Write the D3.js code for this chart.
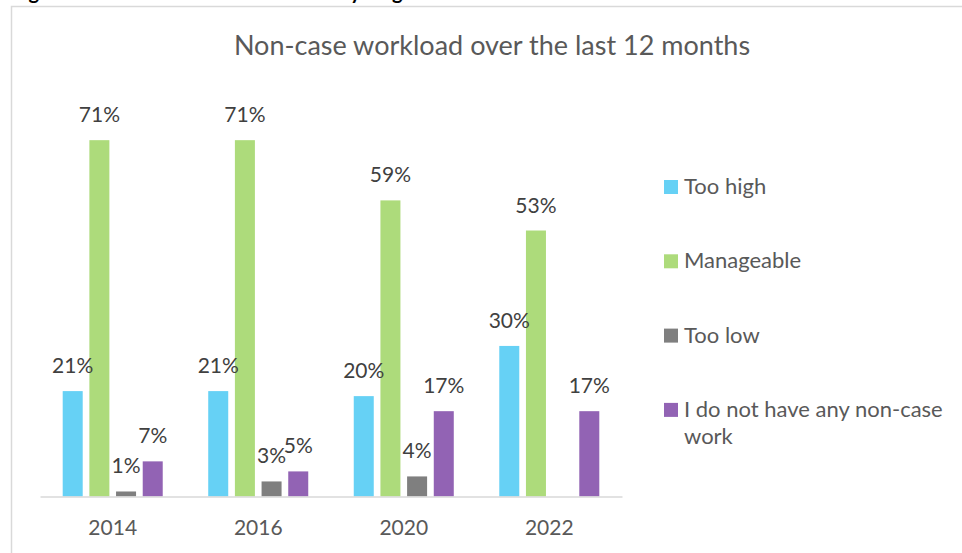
<!DOCTYPE html>
<html>
<head>
<meta charset="utf-8">
<script src="https://cdn.jsdelivr.net/npm/d3@7"></script>
<style>
  body { margin: 0; background: #fff; }
  svg { display: block; font-family: Lato, "Open Sans", sans-serif; }
</style>
</head>
<body>
<script>
const width = 962;
const height = 553;

// chart data
const years = ['2014', '2016', '2020', '2022'];
const seriesNames = ['Too high', 'Manageable', 'Too low', 'I do not have any non-case work'];
const tooHigh = [21, 21, 20, 30];
const manageable = [71, 71, 59, 53];
const tooLow = [1, 3, 4, null];
const noNonCase = [7, 5, 17, 17];
const seriesColors = ['#66D1F5', '#ADDB7B', '#7F7F7F', '#9263B4'];
const seriesValues = [tooHigh, manageable, tooLow, noNonCase];

let svg = d3.select('body').append('svg')
	.attr('width', width)
	.attr('height', height);

// heading above the chart, cut off by the crop
svg.append('text')
	.attr('x', 12)
	.attr('y', -1)
	.style('font-size', '20px')
	.style('font-weight', 'bold')
	.style('fill', '#000')
	.text('Figure 6: Non-case workload of staff by length of service');

// chart frame
svg.append('rect')
	.attr('x', 11.5)
	.attr('y', 6.5)
	.attr('width', 1000)
	.attr('height', 600)
	.style('fill', 'none')
	.style('stroke', '#D9D9D9')
	.style('stroke-width', 1.5);

svg.append('text')
	.attr('x', 492)
	.attr('y', 55)
	.attr('text-anchor', 'middle')
	.style('font-size', '27px')
	.style('fill', '#595959')
	.text('Non-case workload over the last 12 months');

let x0 = d3.scaleBand()
	.domain(years)
	.range([40, 622])
	.paddingInner(0.3127)
	.paddingOuter(0.156);

let x1 = d3.scaleBand()
	.domain(seriesNames)
	.range([0, x0.bandwidth()])
	.paddingInner(0.25);

let y = d3.scaleLinear()
	.domain([0, 80])
	.range([496.5, 95]);

let rows = [];
years.forEach(function (yr, i) {
	seriesNames.forEach(function (s, j) {
		rows.push({ year: yr, series: s, value: seriesValues[j][i], color: seriesColors[j] });
	});
});
rows = rows.filter(d => d.value !== null);

svg.selectAll('.bar')
	.data(rows)
	.enter().append('rect')
	.attr('class', 'bar')
	.attr('x', d => x0(d.year) + x1(d.series))
	.attr('y', d => y(d.value))
	.attr('width', x1.bandwidth())
	.attr('height', d => y(0) - y(d.value))
	.style('fill', d => d.color);

svg.selectAll('.bar-label')
	.data(rows)
	.enter().append('text')
	.attr('class', 'bar-label')
	.attr('x', d => x0(d.year) + x1(d.series) + x1.bandwidth() / 2)
	.attr('y', d => y(d.value) - 18)
	.attr('text-anchor', 'middle')
	.style('font-size', '21px')
	.style('fill', '#404040')
	.text(d => d.value + '%');

let xAxis = svg.append('g')
	.attr('transform', 'translate(0,' + y(0) + ')')
	.call(d3.axisBottom(x0).tickSize(0).tickSizeOuter(0).tickPadding(24));

xAxis.select('.domain')
	.style('stroke', '#D9D9D9')
	.style('stroke-width', 1.5);

xAxis.selectAll('text')
	.style('font-family', 'Lato, "Open Sans", sans-serif')
	.style('font-size', '21px')
	.style('fill', '#595959');

// legend
let legend = svg.selectAll('.legend')
	.data(seriesNames)
	.enter().append('g')
	.attr('class', 'legend')
	.attr('transform', (d, i) => 'translate(664,' + (180 + i * 74.3) + ')');

legend.append('rect')
	.attr('width', 14)
	.attr('height', 14)
	.style('fill', (d, i) => seriesColors[i]);

legend.append('text')
	.attr('x', 20)
	.attr('y', 14)
	.style('font-size', '22px')
	.style('fill', '#595959')
	.each(function (d) {
		let t = d3.select(this);
		if (d.length > 20) {
			t.append('tspan').attr('x', 20).text('I do not have any non-case');
			t.append('tspan').attr('x', 20).attr('dy', 27).text('work');
		} else {
			t.text(d);
		}
	});
</script>
</body>
</html>
